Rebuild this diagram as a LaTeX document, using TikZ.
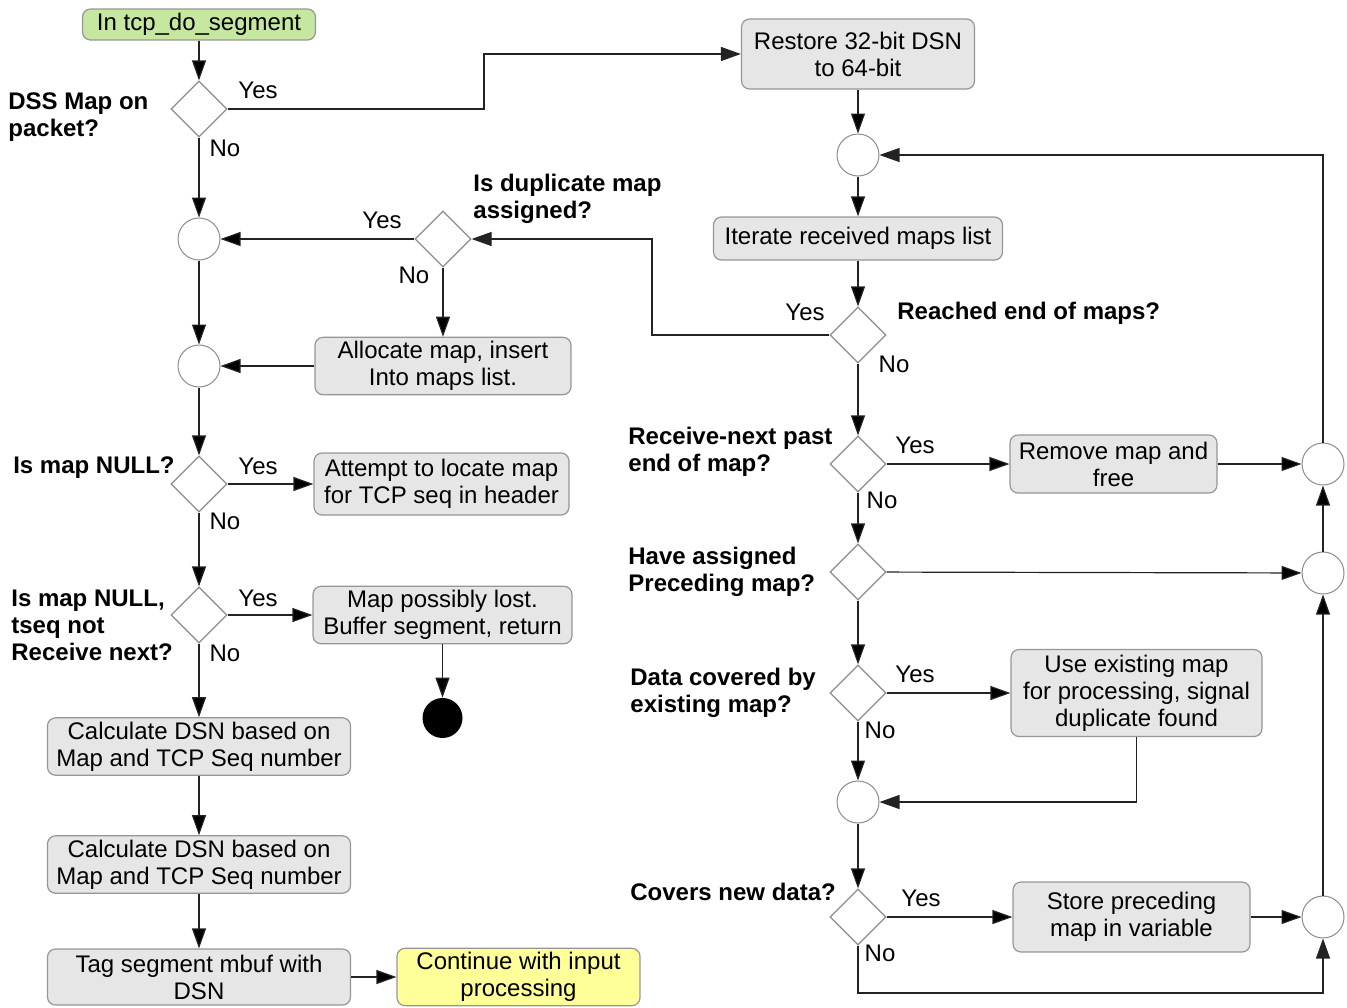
\documentclass[tikz,border=0pt]{standalone}
\usepackage{fontspec}
\setmainfont{Liberation Sans}
\usepackage{tikz}
\usetikzlibrary{arrows.meta,shapes.geometric,calc}

\definecolor{boxfill}{RGB}{230,230,230}
\definecolor{boxline}{RGB}{150,150,150}
\definecolor{startfill}{RGB}{198,231,160}
\definecolor{contfill}{RGB}{255,255,153}
\definecolor{decline}{RGB}{140,140,140}
\definecolor{flowline}{RGB}{35,35,35}

\tikzset{
  box/.style={draw=boxline, fill=boxfill, rounded corners=4pt, align=center, inner sep=2pt, line width=0.6pt},
  decision/.style={diamond, draw=decline, minimum width=28pt, minimum height=28pt, inner sep=0pt, line width=0.6pt},
  merge/.style={circle, draw=decline, minimum size=21pt, inner sep=0pt, line width=0.5pt},
  question/.style={font=\fontsize{12}{13.5}\selectfont\bfseries, align=left, inner sep=0pt},
  answer/.style={inner sep=0pt},
  flow/.style={draw=flowline, line width=0.6pt, -{Triangle[length=10pt,width=7pt]}},
}

\begin{document}
\begin{tikzpicture}[x=0.5pt, y=-0.5pt, font=\fontsize{12}{13.5}\selectfont]

  \useasboundingbox (0,0) rectangle (1347,1007);

  \node[box, fill=startfill, minimum width=116.5pt, minimum height=15.5pt] (start) at (199,24.5) {In tcp\_do\_segment};
  \node[decision] (dss) at (199,109) {};
  \node[question] (dssq) [anchor=west] at (8,117) {DSS Map on\\packet?};
  \node[answer] (dssy) at (258,90) {Yes};
  \node[answer] (dssn) at (225,148) {No};

  \node[merge] (m1) at (199,239) {};
  \node[merge] (m2) at (199,366) {};

  \node[decision] (dup) at (443,239) {};
  \node[question] (dupq) [anchor=west] at (473,198.5) {Is duplicate map\\assigned?};
  \node[answer] (dupy) at (382,220) {Yes};
  \node[answer] (dupn) at (414,275) {No};
  \node[box, minimum width=128pt, minimum height=28pt] (alloc) at (443,366) {Allocate map, insert\\Into maps list.};

  \node[decision] (null) at (199,484) {};
  \node[question] (nullq) [anchor=east] at (175,467.5) {Is map NULL?};
  \node[answer] (nully) at (258,466) {Yes};
  \node[answer] (nulln) at (225,521) {No};
  \node[box, minimum width=127.5pt, minimum height=31pt] (attempt) at (441.5,484) {Attempt to locate map\\for TCP seq in header};

  \node[decision] (tseq) at (199,615) {};
  \node[question] (tseqq) [anchor=west] at (11,625) {Is map NULL,\\tseq not\\Receive next?};
  \node[answer] (tseqy) at (258,598) {Yes};
  \node[answer] (tseqn) at (225,653) {No};
  \node[box, minimum width=129.5pt, minimum height=28pt] (buffer) at (442.5,615) {Map possibly lost.\\Buffer segment, return};
  \node[circle, fill=black, minimum size=20pt, inner sep=0pt] (stop) at (442.5,718) {};

  \node[box, minimum width=151.5pt, minimum height=28.5pt] (calc1) at (199,746.5) {Calculate DSN based on\\Map and TCP Seq number};
  \node[box, minimum width=151.5pt, minimum height=28.5pt] (calc2) at (199,864.5) {Calculate DSN based on\\Map and TCP Seq number};
  \node[box, minimum width=151.5pt, minimum height=28pt] (tag) at (199,977) {Tag segment mbuf with\\DSN};
  \node[box, fill=contfill, minimum width=121.5pt, minimum height=28.5pt] (cont) at (518.5,977) {Continue with input\\processing};

  \node[box, minimum width=116.5pt, minimum height=35pt] (restore) at (858,54) {Restore 32-bit DSN\\to 64-bit};
  \node[merge] (m3) at (858,155) {};
  \node[box, minimum width=144.5pt, minimum height=21.5pt] (iterate) at (858,238.5) {Iterate received maps list};

  \node[decision] (endmaps) at (858,335) {};
  \node[question] (endq) [anchor=west] at (897,313) {Reached end of maps?};
  \node[answer] (endy) at (805,312) {Yes};
  \node[answer] (endn) at (894,364) {No};

  \node[decision] (past) at (858,464) {};
  \node[question] (pastq) [anchor=west] at (628,451.5) {Receive-next past\\end of map?};
  \node[answer] (pasty) at (915,445) {Yes};
  \node[answer] (pastn) at (882,500) {No};
  \node[box, minimum width=103.5pt, minimum height=29pt] (remove) at (1113.5,464) {Remove map and\\free};
  \node[merge] (m5) at (1323,464) {};

  \node[decision] (assigned) at (858,572) {};
  \node[question] (assignq) [anchor=west] at (628,571.5) {Have assigned\\Preceding map?};
  \node[merge] (m6) at (1323,573) {};

  \node[decision] (covered) at (858,693) {};
  \node[question] (coverq) [anchor=west] at (630,692.5) {Data covered by\\existing map?};
  \node[answer] (covery) at (915,674) {Yes};
  \node[answer] (covern) at (880,730) {No};
  \node[box, minimum width=125.5pt, minimum height=43.5pt] (use) at (1136.5,693) {Use existing map\\for processing, signal\\duplicate found};
  \node[merge] (m4) at (858,802) {};

  \node[decision] (newdata) at (858,917) {};
  \node[question] (newq) [anchor=west] at (630,892) {Covers new data?};
  \node[answer] (newy) at (921,898) {Yes};
  \node[answer] (newn) at (880,953) {No};
  \node[box, minimum width=118.5pt, minimum height=35pt] (store) at (1131.5,917) {Store preceding\\map in variable};
  \node[merge] (m7) at (1323,917) {};

  \coordinate (jmp) at (484,0);
  \coordinate (back) at (652,0);
  \coordinate (floor) at (0,993);

  \path[flow] (start) edge (dss);
  \path[flow] (dss) edge (m1);
  \path[flow] (m1) edge (m2);
  \path[flow] (m2) edge (null);
  \path[flow] (null) edge (tseq);
  \path[flow] (tseq) edge (calc1);
  \path[flow] (calc1) edge (calc2);
  \path[flow] (calc2) edge (tag);
  \path[flow] (tag) edge (cont);

  \path[flow] (dup) edge (m1);
  \path[flow] (dup) edge (alloc);
  \path[flow] (alloc) edge (m2);
  \path[flow] (null) edge (attempt);
  \path[flow] (tseq) edge (buffer);
  \path[flow] (buffer) edge (stop);

  \path[flow] (restore) edge (m3);
  \path[flow] (m3) edge (iterate);
  \path[flow] (iterate) edge (endmaps);
  \path[flow] (endmaps) edge (past);
  \path[flow] (past) edge (remove);
  \path[flow] (remove) edge (m5);
  \path[flow] (past) edge (assigned);
  \path[flow] (assigned) edge (m6);
  \path[flow] (m6) edge (m5);
  \path[flow] (assigned) edge (covered);
  \path[flow] (covered) edge (use);
  \path[flow] (covered) edge (m4);
  \path[flow] (m4) edge (newdata);
  \path[flow] (newdata) edge (store);
  \path[flow] (store) edge (m7);
  \path[flow] (m7) edge (m6);

  \draw[flow] (dss.east) -- (dss.east -| jmp) |- (restore.west);
  \draw[flow] (endmaps.west) -- (endmaps.west -| back) |- (dup.east);
  \draw[flow] (m5.north) |- (m3.east);
  \draw[flow] (use.south) |- (m4.east);
  \draw[flow] (newdata.south) -- (newdata.south |- floor) -| (m7.south);

\end{tikzpicture}
\end{document}
